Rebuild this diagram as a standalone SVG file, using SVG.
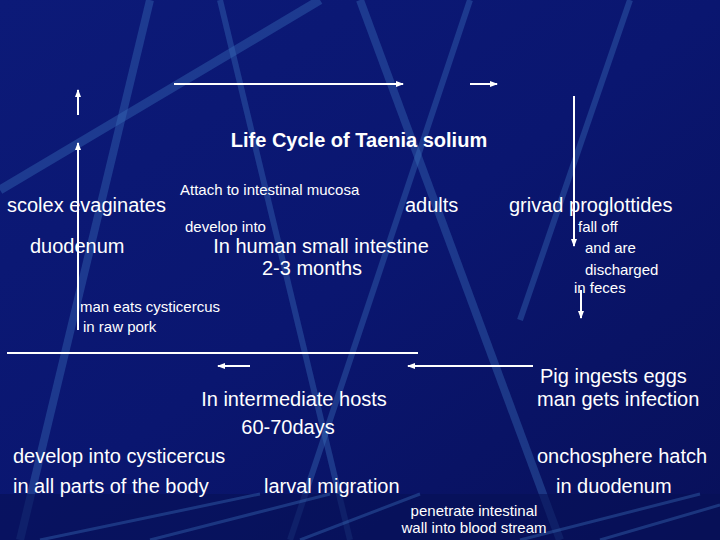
<svg xmlns="http://www.w3.org/2000/svg" width="720" height="540" viewBox="0 0 720 540">
<defs>
<linearGradient id="bg" x1="0" y1="0" x2="1" y2="1"><stop offset="0" stop-color="#0c1a78"/><stop offset="0.5" stop-color="#0a1670"/><stop offset="1" stop-color="#08105a"/></linearGradient>
<linearGradient id="gl" x1="0" y1="0" x2="1" y2="0"><stop offset="0" stop-color="#9fd08a" stop-opacity="0"/><stop offset="0.3" stop-color="#9fd08a"/><stop offset="1" stop-color="#9fd08a" stop-opacity="0.3"/></linearGradient>
<marker id="ah" markerWidth="8" markerHeight="8" refX="7" refY="4" orient="auto" markerUnits="userSpaceOnUse"><path d="M0,1 L8,4 L0,7 Z" fill="#fff"/></marker>
<style>
.t{fill:#fff;font-family:"Liberation Sans",Arial,sans-serif;font-size:20px}
.s{fill:#fff;font-family:"Liberation Sans",Arial,sans-serif;font-size:15px}
.st{stroke:#3a6fb8;stroke-opacity:0.4;fill:none}
.c{stroke:#fff;stroke-width:2;fill:none}
</style>
</defs>
<rect width="720" height="540" fill="url(#bg)"/>
<g id="streaks">
<line class="st" x1="150" y1="0" x2="20" y2="540" stroke-width="8"/>
<line class="st" x1="220" y1="0" x2="350" y2="540" stroke-width="6"/>
<line class="st" x1="360" y1="0" x2="560" y2="540" stroke-width="8"/>
<line class="st" x1="470" y1="0" x2="290" y2="540" stroke-width="6"/>
<line class="st" x1="630" y1="0" x2="520" y2="320" stroke-width="6"/>
<line class="st" x1="320" y1="0" x2="0" y2="190" stroke-width="9"/>
<rect x="0" y="494" width="720" height="46" fill="#071055" opacity="0.6"/>
<path class="st" d="M40 540 L260 494 M150 540 L330 494 M300 540 L420 494 M520 540 L700 494 M600 540 L720 505" stroke-width="3"/>
<line x1="150" y1="494" x2="720" y2="494" stroke="url(#gl)" stroke-width="2"/>
</g>
<g id="connectors">
<line class="c" x1="78" y1="115" x2="78" y2="90" marker-end="url(#ah)"/>
<line class="c" x1="78" y1="330" x2="78" y2="143" marker-end="url(#ah)"/>
<line class="c" x1="174" y1="84" x2="403" y2="84" marker-end="url(#ah)"/>
<line class="c" x1="470" y1="84" x2="497" y2="84" marker-end="url(#ah)"/>
<line class="c" x1="574" y1="96" x2="574" y2="246" marker-end="url(#ah)"/>
<line class="c" x1="581" y1="290" x2="581" y2="318" marker-end="url(#ah)"/>
<line class="c" x1="7" y1="353" x2="418" y2="353"/>
<line class="c" x1="250" y1="366" x2="218" y2="366" marker-end="url(#ah)"/>
<line class="c" x1="533" y1="366" x2="408" y2="366" marker-end="url(#ah)"/>
</g>
<g id="title"><text class="t" x="359" y="147" text-anchor="middle" font-weight="bold" font-size="19">Life Cycle of Taenia solium</text></g>
<g id="scolex"><text class="t" x="7" y="212">scolex evaginates</text></g>
<g id="attach"><text class="s" x="180" y="195">Attach to intestinal mucosa</text></g>
<g id="adults"><text class="t" x="405" y="212">adults</text></g>
<g id="grivad"><text class="t" x="509" y="212">grivad proglottides</text></g>
<g id="develop"><text class="s" x="185" y="232">develop into</text></g>
<g id="falloff"><text class="s" x="578" y="232">fall off</text><text class="s" x="585" y="253">and are</text><text class="s" x="585" y="275">discharged</text><text class="s" x="574" y="293">in feces</text></g>
<g id="duodenum"><text class="t" x="30" y="253">duodenum</text></g>
<g id="human"><text class="t" x="321" y="253" text-anchor="middle">In human small intestine</text><text class="t" x="312" y="275" text-anchor="middle">2-3 months</text></g>
<g id="maneats"><text class="s" x="80" y="312">man eats cysticercus</text><text class="s" x="83" y="332">in raw pork</text></g>
<g id="pig"><text class="t" x="540" y="383">Pig ingests eggs</text><text class="t" x="537" y="406">man gets infection</text></g>
<g id="intermediate"><text class="t" x="294" y="406" text-anchor="middle">In intermediate hosts</text><text class="t" x="288" y="434" text-anchor="middle">60-70days</text></g>
<g id="cysticercus"><text class="t" x="13" y="463">develop into cysticercus</text><text class="t" x="13" y="493">in all parts of the body</text></g>
<g id="larval"><text class="t" x="264" y="493">larval migration</text></g>
<g id="onchosphere"><text class="t" x="537" y="463">onchosphere hatch</text><text class="t" x="556" y="493">in duodenum</text></g>
<g id="penetrate"><text class="s" x="474" y="516" text-anchor="middle">penetrate intestinal</text><text class="s" x="474" y="533" text-anchor="middle">wall into blood stream</text></g>
</svg>
